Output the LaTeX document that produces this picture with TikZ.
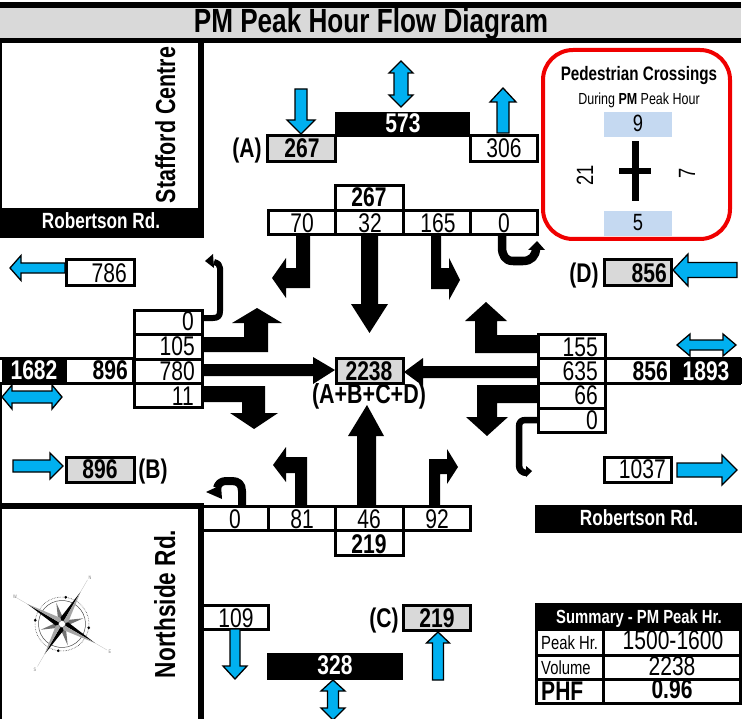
\documentclass[tikz,border=0pt]{standalone}
\usepackage{fontspec}
\setmainfont{Liberation Sans}[FakeStretch=0.78]
\definecolor{skyb}{HTML}{00B0F0}
\definecolor{graybox}{HTML}{D9D9D9}
\definecolor{pedblue}{HTML}{C5D9F1}
\definecolor{redb}{HTML}{F00000}
\tikzset{
 numtxt/.style={inner sep=0pt,anchor=base,font=\fontsize{27}{27}\selectfont},
 numbold/.style={inner sep=0pt,anchor=base,font=\fontsize{27}{27}\selectfont\bfseries},
 numright/.style={numtxt,anchor=base east},
 boldright/.style={numbold,anchor=base east},
 whitebold/.style={numbold,text=white},
 cellbox/.style={draw=black,line width=3pt,fill=white},
 graycell/.style={draw=black,line width=3pt,fill=graybox},
 blk/.style={fill=black,draw=none},
 rule/.style={fill=black,draw=none},
 blu/.style={fill=skyb,draw=black,line width=1.3pt,line join=miter},
 ustroke/.style={draw=black,line cap=butt,line join=round},
}
% vertical blue arrow: xc, ytail, yheadbase, ytip, shaft half, head half
\newcommand{\arrV}[6]{\draw[blu] ({#1-#5},#2) -- ({#1-#5},#3) -- ({#1-#6},#3) -- (#1,#4) -- ({#1+#6},#3) -- ({#1+#5},#3) -- ({#1+#5},#2) -- cycle;}
\newcommand{\arrH}[6]{\draw[blu] (#2,{#1-#5}) -- (#3,{#1-#5}) -- (#3,{#1-#6}) -- (#4,#1) -- (#3,{#1+#6}) -- (#3,{#1+#5}) -- (#2,{#1+#5}) -- cycle;}
% double: centre, tip1, base1, base2, tip2, shaft half, head half
\newcommand{\darrV}[7]{\draw[blu] (#1,#2) -- ({#1+#7},#3) -- ({#1+#6},#3) -- ({#1+#6},#4) -- ({#1+#7},#4) -- (#1,#5) -- ({#1-#7},#4) -- ({#1-#6},#4) -- ({#1-#6},#3) -- ({#1-#7},#3) -- cycle;}
\newcommand{\darrH}[7]{\draw[blu] (#2,#1) -- (#3,{#1+#7}) -- (#3,{#1+#6}) -- (#4,{#1+#6}) -- (#4,{#1+#7}) -- (#5,#1) -- (#4,{#1-#7}) -- (#4,{#1-#6}) -- (#3,{#1-#6}) -- (#3,{#1-#7}) -- cycle;}
\begin{document}
\begin{tikzpicture}[x=1pt,y=-1pt]
\useasboundingbox (0,0) rectangle (749,719);
\fill[white] (0,0) rectangle (749,719);
% title
\fill[graybox] (0,2) rectangle (741,43);
\fill[rule] (0,2) rectangle (741,8);
\fill[rule] (0,38) rectangle (741,43);
\node[numbold,font=\fontsize{33.5}{33.5}\selectfont\bfseries] (title) at (371,33) {PM Peak Hour Flow Diagram};
% top-left block
\fill[rule] (0,43) rectangle (2,210);
\fill[rule] (198,43) rectangle (204,210);
\fill[rule] (0,208) rectangle (204,238);
\node[whitebold,font=\fontsize{22}{22}\selectfont\bfseries] (rdw) at (101,229) {Robertson Rd.};
\node[numbold,rotate=90,font=\fontsize{27.5}{27.5}\selectfont\bfseries] (stafford) at (175,125) {Stafford Centre};
% bottom-left block
\fill[rule] (0,383) rectangle (2,719);
\fill[rule] (0,503) rectangle (204,509);
\fill[rule] (198,503) rectangle (204,719);
\node[numbold,rotate=90,font=\fontsize{29}{29}\selectfont\bfseries] (northside) at (175,604) {Northside Rd.};
% road west and east strips
\fill[rule] (0,356.5) rectangle (134,360);
\fill[rule] (0,381.5) rectangle (134,385);
\fill[rule] (2,358) rectangle (67,384);
\fill[rule] (131.5,358) rectangle (134.5,384);
\fill[rule] (605,356.5) rectangle (741,360);
\fill[rule] (605,381.5) rectangle (741,385);
\fill[rule] (670,358) rectangle (742,384);
\node[whitebold] (w1682) at (34,379) {1682};
\node[boldright] (w896) at (128,379) {896};
\node[boldright] (e856) at (668,380) {856};
\node[whitebold] (e1893) at (706,380) {1893};
% north approach
\draw[graycell] (267,136) rectangle (335,162);
\node[numbold] (a267) at (302,158) {267};
\node[numbold] (alabel) at (247,158) {(A)};
\fill[rule] (335,112) rectangle (470,137);
\node[whitebold] (n573) at (403,133) {573};
\draw[cellbox] (470,136) rectangle (537,162);
\node[numtxt] (n306) at (504,158) {306};
\draw[cellbox] (335,186) rectangle (403,211);
\node[numbold] (n267) at (369,207) {267};
\draw[cellbox] (268,211) rectangle (335,235);
\draw[cellbox] (335,211) rectangle (403,235);
\draw[cellbox] (403,211) rectangle (470,235);
\draw[cellbox] (470,211) rectangle (537,235);
\node[numtxt] (n70) at (302,233) {70};
\node[numtxt] (n32) at (370,233) {32};
\node[numtxt] (n165) at (438,233) {165};
\node[numtxt] (n0) at (504,233) {0};
% east side boxes
\draw[graycell] (604,260) rectangle (671,285);
\node[boldright] (d856) at (667,282) {856};
\node[numbold] (dlabel) at (584,282) {(D)};
\draw[cellbox] (604,457) rectangle (671,482);
\node[numright] (e1037) at (666,478) {1037};
\node[fill=black,minimum width=207pt,minimum height=28pt,inner sep=0pt] (rde) at (638.5,519) {};
\node[whitebold,font=\fontsize{22}{22}\selectfont\bfseries] (rdetxt) at (639,525) {Robertson Rd.};
% east table
\draw[cellbox] (538,334) rectangle (605,358);
\draw[cellbox] (538,358) rectangle (605,383);
\draw[cellbox] (538,383) rectangle (605,408);
\draw[cellbox] (538,408) rectangle (605,432);
\node[numright] (e155) at (598,356) {155};
\node[numright] (e635) at (598,380) {635};
\node[numright] (e66) at (598,404) {66};
\node[numright] (e0) at (598,429) {0};
% west table
\draw[cellbox] (134,310) rectangle (202,334);
\draw[cellbox] (134,334) rectangle (202,359);
\draw[cellbox] (134,359) rectangle (202,383);
\draw[cellbox] (134,383) rectangle (202,407);
\node[numright] (w0) at (194,330) {0};
\node[numright] (w105) at (195,355) {105};
\node[numright] (w780) at (195,380) {780};
\node[numright] (w11) at (194,405) {11};
% west side boxes
\draw[cellbox] (66,260) rectangle (134,285);
\node[numright] (w786) at (127,282) {786};
\draw[graycell] (66,457) rectangle (134,482);
\node[numbold] (b896) at (100,478) {896};
\node[numbold] (blabel) at (153,478) {(B)};
% south table
\draw[cellbox] (204,506) -- (470,506) -- (470,530) -- (204,530);
\draw[line width=3pt] (268,506) -- (268,530) (335,506) -- (335,530) (403,506) -- (403,530);
\draw[cellbox] (335,530) rectangle (403,555);
\node[numtxt] (s0) at (235,528) {0};
\node[numtxt] (s81) at (302,528) {81};
\node[numtxt] (s46) at (369,528) {46};
\node[numtxt] (s92) at (437,528) {92};
\node[numbold] (s219) at (369,553) {219};
% south approach
\draw[cellbox] (204,605) -- (268,605) -- (268,629) -- (204,629);
\node[numtxt] (s109) at (236,627) {109};
\fill[rule] (267,653) rectangle (403,680);
\node[whitebold] (s328) at (335,674) {328};
\draw[graycell] (403,605) rectangle (470,630);
\node[numbold] (c219) at (437,627) {219};
\node[numbold] (clabel) at (384,627) {(C)};
% centre
\draw[graycell] (336,358) rectangle (403,383);
\node[numbold] (ctot) at (369,380) {2238};
\node[numbold,font=\fontsize{27.5}{27.5}\selectfont\bfseries] (csum) at (369,403) {(A+B+C+D)};
% black turning arrows
\fill[blk] (361,236) -- (378,236) -- (378,304) -- (388,304) -- (369.5,333) -- (351,304) -- (361,304) -- cycle;
\fill[blk] (202,364) -- (313,364) -- (313,357) -- (335,370) -- (313,384) -- (313,376) -- (202,376) -- cycle;
\fill[blk] (537,366) -- (423,366) -- (423,358) -- (404,372) -- (423,386) -- (423,378) -- (537,378) -- cycle;
\fill[blk] (357,505) -- (357,436) -- (348,436) -- (367,405) -- (384,436) -- (376,436) -- (376,505) -- cycle;
\fill[blk] (296,236) -- (310,236) -- (310,288) -- (286,288) -- (286,298) -- (272,278) -- (286,258) -- (286,268) -- (296,268) -- cycle;
\fill[blk] (202,337) -- (244,337) -- (244,323) -- (232,323) -- (257,308) -- (282,323) -- (268,323) -- (268,352) -- (202,352) -- cycle;
\fill[blk] (431,236) -- (441,236) -- (441,268) -- (449,268) -- (449,258) -- (460,280) -- (449,300) -- (449,289) -- (431,289) -- cycle;
\fill[blk] (537,335) -- (497,335) -- (497,321) -- (507,321) -- (486,302) -- (465,321) -- (475,321) -- (475,353) -- (537,353) -- cycle;
\fill[blk] (537,385) -- (477,385) -- (477,417) -- (466,417) -- (487,436) -- (508,417) -- (497,417) -- (497,403) -- (537,403) -- cycle;
\fill[blk] (202,386) -- (265,386) -- (265,413) -- (278,413) -- (254,429) -- (230,413) -- (242,413) -- (242,402) -- (202,402) -- cycle;
\fill[blk] (295,505) -- (295,473) -- (286,473) -- (286,482) -- (273,465) -- (286,447) -- (286,457) -- (307,457) -- (307,505) -- cycle;
\fill[blk] (429,505) -- (429,459) -- (447,459) -- (447,449) -- (458,467) -- (447,484) -- (447,474) -- (440,474) -- (440,505) -- cycle;
% u-turns
\draw[ustroke,line width=6pt] (203,318) -- (213,318) .. controls (218,318) and (220,316) .. (220,311) -- (220,268) .. controls (220,265) and (218,263) .. (214,262);
\fill[blk] (205,261) -- (213,254) -- (214,268) -- cycle;
\draw[ustroke,line width=8.5pt] (502,236) -- (502,247) .. controls (502,255) and (505,261) .. (513,261) -- (523,261) .. controls (531,261) and (536,256) .. (536,248);
\fill[blk] (528,250) -- (537,241) -- (545,250) -- cycle;
\draw[ustroke,line width=6.5pt] (537,420) -- (526,420) .. controls (521,420) and (519,422) .. (519,427) -- (519,465) .. controls (519,470) and (522,473) .. (527,473);
\fill[blk] (526,466) -- (532,471) -- (526,477) -- cycle;
\draw[ustroke,line width=8pt] (242,505) -- (242,491) .. controls (242,484) and (238,481) .. (232,481) -- (226,481) .. controls (221,481) and (218,484) .. (217,488);
\fill[blk] (206,492) -- (221,485) -- (222,499) -- cycle;
% blue arrows
\arrV{301}{89}{120}{134}{6}{14}
\darrV{401}{61}{73}{95}{107}{7}{12}
\arrV{503}{133}{102}{88}{6}{13}
\arrH{270}{737}{688}{673}{7.5}{16}
\arrH{268}{65}{21}{10}{5}{12.5}
\darrH{345}{677}{690}{723}{736}{5}{11}
\darrH{397}{2}{12}{52}{62}{6}{12}
\arrH{466}{13}{50}{63}{6}{13}
\arrH{470}{677}{722}{737}{7}{15}
\arrV{235}{629}{666}{679}{5}{12}
\darrV{333}{680}{691}{708}{720}{5.5}{12}
\arrV{438}{680}{643}{632}{5.5}{11.5}
% pedestrian panel
\draw[redb,line width=4pt,rounded corners=30pt,fill=white] (543,50) rectangle (730,239);
\fill[pedblue] (604,112) rectangle (672,137);
\fill[pedblue] (604,211) rectangle (672,236);
\node[numbold,font=\fontsize{19.5}{19.5}\selectfont\bfseries] (pedt) at (639,81) {Pedestrian Crossings};
\node[numtxt,font=\fontsize{16}{16}\selectfont] (pedd) at (639,105) {During \textbf{PM} Peak Hour};
\node[numtxt,font=\fontsize{23.5}{23.5}\selectfont] (ped9) at (638,132) {9};
\node[numtxt,font=\fontsize{23.5}{23.5}\selectfont] (ped5) at (638,231) {5};
\node[numtxt,rotate=90,font=\fontsize{23.5}{23.5}\selectfont] (ped21) at (593,175) {21};
\node[numtxt,rotate=90,font=\fontsize{23.5}{23.5}\selectfont] (ped7) at (695,173) {7};
\fill[black] (632,141) rectangle (639,201);
\fill[black] (619,168) rectangle (651,174);
% summary table
\fill[rule] (535,603) rectangle (742,631);
\node[whitebold,font=\fontsize{19}{19}\selectfont\bfseries] (sumt) at (639,623) {Summary - PM Peak Hr.};
\draw[line width=3pt] (536.5,630) -- (536.5,704) (740.5,630) -- (740.5,704);
\draw[line width=3pt] (535,655) -- (742,655) (535,679) -- (742,679) (535,703.5) -- (742,703.5);
\draw[line width=3pt] (603.5,630) -- (603.5,704);
\node[numtxt,anchor=base west,font=\fontsize{19}{19}\selectfont] (pk) at (541,649) {Peak Hr.};
\node[numtxt,anchor=base west,font=\fontsize{19}{19}\selectfont] (vol) at (541,674) {Volume};
\node[numbold,anchor=base west] (phf) at (541,700) {PHF};
\node[numtxt] (pkv) at (673,649) {1500-1600};
\node[numtxt] (volv) at (672,675) {2238};
\node[numbold] (phfv) at (672,698) {0.96};
% compass
\begin{scope}[shift={(62,624)},x=1pt,y=1pt,rotate=-30]
 \draw[black!70,line width=0.5pt] (0,0) circle (23.5);
 \draw[black!70,line width=0.6pt,densely dotted] (0,0) circle (27);
 \foreach \a in {45,135,225,315}{
  \fill[black!55,rotate=\a] (0,0) -- (-3,3) -- (0,22) -- (3,3) -- cycle;
 }
 \foreach \a/\r in {0/37,90/40,180/35,270/38}{
  \fill[black,rotate=\a] (0,0) -- (0,\r) -- (-4.5,4.5) -- cycle;
  \fill[black!35,rotate=\a] (0,0) -- (0,\r) -- (4.5,4.5) -- cycle;
  \draw[black!25,line width=0.3pt,rotate=\a] (0,\r) -- (0,{\r+14});
 }
 \fill[white] (0,0) circle (3.5);
 \draw[black!70,line width=0.4pt] (0,0) circle (3.5);
 \foreach \a in {22,112,202,292}{
  \fill[black,rotate=\a] (0,27) circle (1.5);
 }
\end{scope}
\node[numtxt,text=black!50,font=\fontsize{5}{5}\selectfont] (cn) at (90,579) {N};
\node[numtxt,text=black!50,font=\fontsize{5}{5}\selectfont] (cw) at (15,598) {W};
\node[numtxt,text=black!50,font=\fontsize{5}{5}\selectfont] (ce) at (110,653) {E};
\node[numtxt,text=black!50,font=\fontsize{5}{5}\selectfont] (cs) at (35,671) {S};
\end{tikzpicture}
\end{document}
